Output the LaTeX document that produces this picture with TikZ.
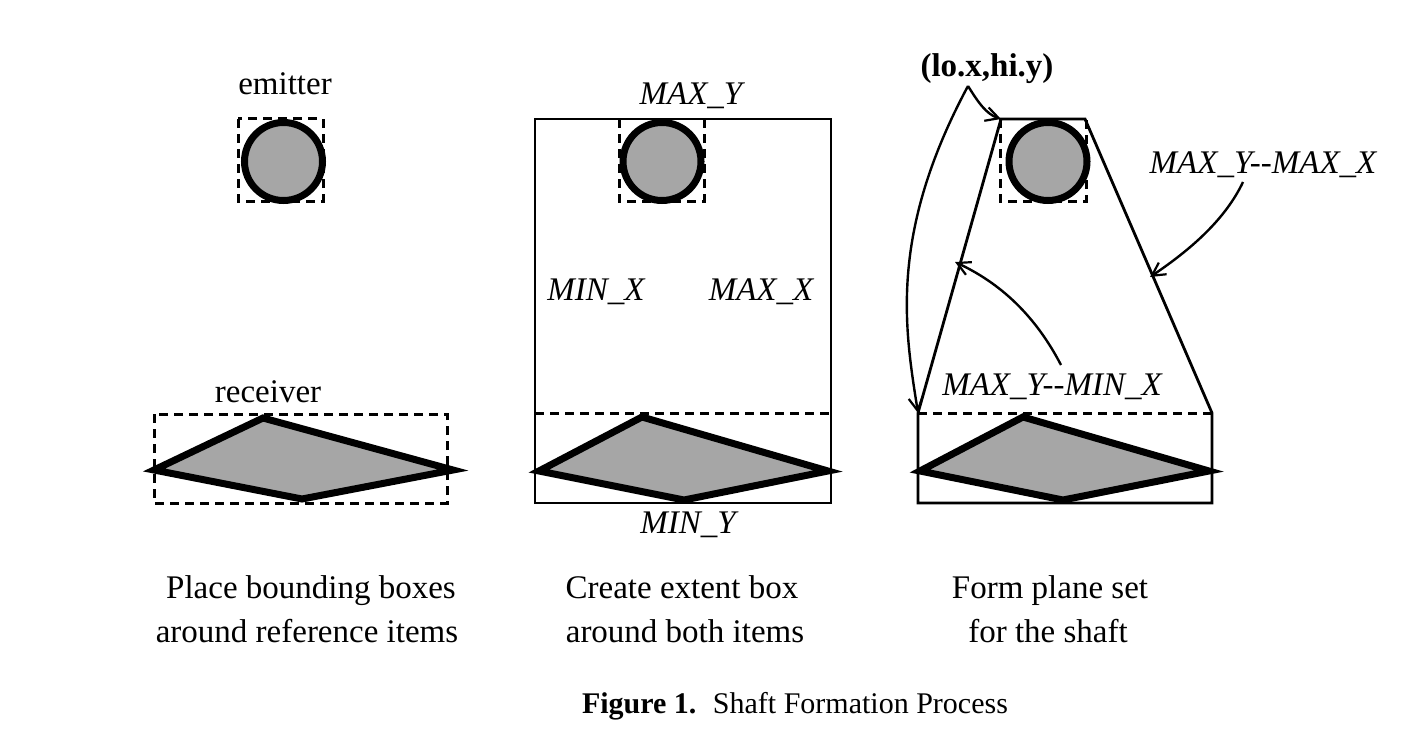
\documentclass[tikz,border=0pt]{standalone}
\usepackage{fontspec}
\setmainfont{Liberation Serif}
\usetikzlibrary{arrows.meta}
\tikzset{
  lbl/.style={inner sep=0pt, anchor=base, font=\fontsize{33}{40}\selectfont},
  ilbl/.style={lbl, font=\fontsize{33}{40}\selectfont\itshape},
  bbox/.style={draw, line width=3pt, dash pattern=on 9pt off 6pt},
  extent/.style={draw, line width=2.8pt},
  item/.style={draw, line width=7pt, fill=gray!70, line join=miter, miter limit=20},
  ptr/.style={draw, line width=2.4pt, -{Straight Barb[length=13pt,width=14pt,line width=2.2pt]}},
}
\begin{document}
\begin{tikzpicture}[x=1pt,y=-1pt]
\useasboundingbox (0,0) rectangle (1421,733);
% ---------- panel 1 ----------
\node[lbl] (emit) at (285,95) {emitter};
\draw[bbox] (238,119) rectangle (323,201);
\draw[item] (283.5,161.5) circle (39);
\node[lbl] (recv) at (268,402) {receiver};
\draw[bbox] (154,414) rectangle (447,503);
\draw[item] (154,470) -- (263,418) -- (453,470) -- (302,499) -- cycle;
\node[lbl] (cap1a) at (311,598) {Place bounding boxes};
\node[lbl] (cap1b) at (307,642) {around reference items};
% ---------- panel 2 ----------
\draw[extent] (535,119) rectangle (831,503);
\draw[bbox] (619,119) -- (619,201) -- (704,201) -- (704,119);
\draw[item] (662,161.5) circle (39);
\draw[bbox] (535,413) -- (831,413);
\draw[item] (539,471) -- (642,417) -- (828,471) -- (684,500) -- cycle;
\node[ilbl] (maxy) at (691,105) {MAX\_Y};
\node[ilbl] (minx) at (596,300) {MIN\_X};
\node[ilbl] (maxx) at (761,300) {MAX\_X};
\node[ilbl] (miny) at (688,533) {MIN\_Y};
\node[lbl] (cap2a) at (682,598) {Create extent box};
\node[lbl] (cap2b) at (685,642) {around both items};
% ---------- panel 3 ----------
\coordinate (tl) at (1001,119);
\coordinate (tr) at (1085,119);
\coordinate (mr) at (1212,413);
\coordinate (br) at (1212,503);
\coordinate (bl) at (918,503);
\coordinate (ml) at (918,413);
\draw[extent, line join=miter] (tl) -- (tr) -- (mr) -- (br) -- (bl) -- (ml) -- cycle;
\draw[bbox] (1000,119) -- (1000,201) -- (1086,201) -- (1086,119);
\draw[item] (1048,161.5) circle (39);
\draw[bbox] (ml) -- (mr);
\draw[item] (920,471) -- (1023,417) -- (1209,471) -- (1063,500) -- cycle;
\node[lbl, font=\fontsize{33}{40}\selectfont\bfseries] (lohi) at (987,77) {(lo.x,hi.y)};
\node[ilbl] (mymx) at (1263,173) {MAX\_Y{-}{-}MAX\_X};
\node[ilbl] (mymn) at (1052,395) {MAX\_Y{-}{-}MIN\_X};
\coordinate (p1) at (1150,277);
\coordinate (p2) at (955,262);
\coordinate (s0) at (968,86);
\coordinate (s1) at (1243,182);
\coordinate (s2) at (1061,365);
\draw[ptr] (s0) .. controls (978,102) and (986,114) .. (tl);
\draw[ptr] (s0) .. controls (888,235) and (905,330) .. (ml);
\draw[ptr] (s1) .. controls (1225,220) and (1190,250) .. (p1);
\draw[ptr] (s2) .. controls (1035,315) and (1000,283) .. (p2);
\node[lbl] (cap3a) at (1050,598) {Form plane set};
\node[lbl] (cap3b) at (1048,642) {for the shaft};
% ---------- figure caption ----------
\node[lbl, font=\fontsize{30}{36}\selectfont] (fig) at (795,713) {\textbf{Figure 1.}\hspace{0.55em}Shaft Formation Process};
\end{tikzpicture}
\end{document}
